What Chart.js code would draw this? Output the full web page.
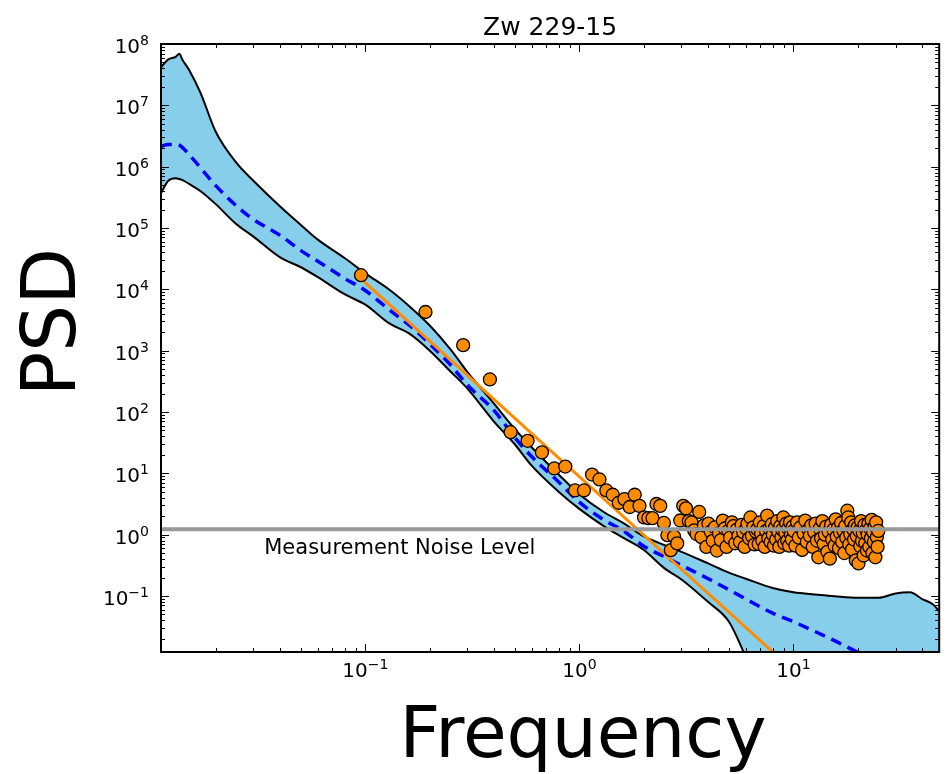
<!DOCTYPE html>
<html>
<head>
<meta charset="utf-8">
<script src="https://cdn.jsdelivr.net/npm/chart.js@4.4.0/dist/chart.umd.min.js"></script>
<style>
  html, body { margin: 0; padding: 0; background: #fff; }
  #wrap { width: 947px; height: 774px; }
</style>
</head>
<body>
<div id="wrap"><canvas id="psdChart" width="947" height="774"></canvas></div>
<script>
// frequency grid for the model band and its mean
const curveFreq = [0.0111, 0.012, 0.013, 0.0135, 0.014, 0.015, 0.017, 0.02, 0.025, 0.03, 0.04, 0.05, 0.06, 0.08,
  0.1, 0.13, 0.16, 0.2, 0.25, 0.3, 0.4, 0.5, 0.6, 0.8, 1, 1.3, 1.6, 2, 2.5, 3, 4, 5, 6, 8,
  10, 13, 16, 20, 25, 30, 35, 40, 45, 48];
const upperPsd = [4.17e7, 5.62e7, 6.17e7, 6.92e7, 5.5e7, 3.8e7, 1.58e7, 3.7e6, 1.15e6, 5.9e5, 2.24e5, 1.12e5, 6.46e4, 3.24e4,
  1.82e4, 9.77e3, 5.37e3, 2.57e3, 1.05e3, 447, 135, 52.5, 26.3, 9.55, 4.57, 2.34, 1.55, 0.933, 0.676, 0.525, 0.339, 0.24, 0.191, 0.135,
  0.115, 0.105, 0.0977, 0.0933, 0.0933, 0.11, 0.115, 0.0891, 0.0724, 0.0562];
const lowerPsd = [3.7e5, 5.9e5, 6.46e5, 6.31e5, 6.03e5, 5.25e5, 3.98e5, 2.45e5, 1.15e5, 7.24e4, 3.31e4, 2.29e4, 1.58e4, 8.32e3,
  5.62e3, 2.75e3, 1.91e3, 1.0e3, 457, 240, 69.2, 29.5, 13.2, 5.01, 2.63, 1.38, 0.891, 0.562, 0.282, 0.186, 0.0794, 0.038, 0.01, 0.001,
  1e-4, 1e-4, 1e-4, 1e-4, 1e-4, 1e-4, 1e-4, 1e-4, 1e-4, 1e-4];
const meanPsd = [2.14e6, 2.29e6, 2.29e6, 2.24e6, 2.04e6, 1.58e6, 9.55e5, 4.9e5, 2.29e5, 1.38e5, 7.59e4, 4.27e4, 2.88e4, 1.51e4,
  9.55e3, 4.57e3, 2.63e3, 1.29e3, 589, 275, 105, 38.0, 18.6, 7.24, 3.39, 1.74, 1.17, 0.646, 0.437, 0.316, 0.191, 0.126, 0.0891, 0.0525,
  0.038, 0.0251, 0.0178, 0.012, 0.0079, null, null, null, null, null];

// power-law fit (straight in log-log)
const fitFreq = [0.0955, 8.0];
const fitPsd = [14800, 0.0123];

// measurement noise level
const noiseFreq = [0.0111, 48];
const noisePsd = [1.22, 1.22];

// periodogram points
const pointFreq = [0.0955, 0.191, 0.2865, 0.382, 0.4775, 0.573, 0.6685, 0.764, 0.8595, 0.955, 1.0505, 1.146, 1.2415, 1.337,
  1.4325, 1.528, 1.6235, 1.719, 1.8145, 1.91, 2.0055, 2.101, 2.1965, 2.292, 2.3875, 2.483, 2.5785, 2.674, 2.7695, 2.865,
  2.9605, 3.056, 3.1515, 3.247, 3.3425,
  3.44, 3.53, 3.63, 3.72, 3.82, 3.92, 4.01, 4.11, 4.20, 4.30, 4.39, 4.49, 4.58, 4.68, 4.78, 4.87, 4.97,
  5.06, 5.16, 5.25, 5.35, 5.44, 5.54, 5.63, 5.73, 5.83, 5.92,
  6.02, 6.11, 6.21, 6.30, 6.40, 6.49, 6.59, 6.69, 6.78, 6.88, 6.97,
  7.07, 7.16, 7.26, 7.35, 7.45, 7.54, 7.64, 7.74, 7.83, 7.93,
  8.02, 8.12, 8.21, 8.31, 8.40, 8.50, 8.60, 8.69, 8.79, 8.88, 8.98,
  9.07, 9.17, 9.26, 9.36, 9.45, 9.55, 9.65, 9.74, 9.84, 9.93,
  10.03, 10.22, 10.41, 10.60, 10.79, 10.98, 11.17, 11.36, 11.56, 11.75,
  11.94, 12.13, 12.32, 12.51, 12.70, 12.89, 13.08, 13.27, 13.47, 13.66,
  13.85, 14.04, 14.23, 14.42, 14.61, 14.80, 14.99, 15.18, 15.38, 15.57,
  15.76, 15.95, 16.14, 16.33, 16.52, 16.71, 16.90, 17.09, 17.29, 17.48,
  17.67, 17.86, 18.05, 18.24, 18.43, 18.62, 18.81, 19.00, 19.20, 19.39,
  19.58, 19.77, 19.96, 20.15, 20.34, 20.53, 20.72, 20.91, 21.11, 21.30,
  21.49, 21.68, 21.87, 22.06, 22.25, 22.44, 22.63, 22.82, 23.02, 23.21,
  23.40, 23.59, 23.78, 23.97, 24.16, 24.35, 24.54, 24.73, 24.93];
const pointPsd = [17000, 4270, 1230, 339, 46.8, 33.9, 21.9, 12.0, 12.9, 5.25, 5.25, 9.55, 7.94, 5.25,
  4.47, 3.31, 3.80, 2.82, 4.47, 2.95, 1.91, 1.86, 1.86, 3.16, 2.95, 1.55, 0.98, 0.56, 0.93, 0.72,
  1.70, 2.95, 2.69, 1.66, 1.58,
  1.175, 1.023, 2.344, 0.912, 1.413, 0.631, 1.514, 1.122, 0.794, 1.318, 0.55, 1.047, 0.813, 1.698, 1.259, 0.631, 1.148,
  0.891, 1.585, 1.38, 0.724, 1.202, 0.955, 0.759, 1.445, 1.096, 0.631,
  1.259, 1.514, 0.871, 1.905, 0.955, 1.318, 0.692, 1.122, 1.23, 0.708, 1.585,
  1.047, 0.794, 1.38, 0.631, 1.148, 2.042, 0.871, 1.259, 0.759, 1.479,
  1.0, 0.661, 1.318, 0.832, 1.66, 1.122, 0.631, 1.38, 0.912, 1.202, 1.905,
  0.724, 1.072, 1.514, 0.794, 1.259, 0.661, 1.585, 1.0, 0.832, 1.349,
  1.148, 0.661, 1.585, 0.891, 1.318, 0.562, 1.047, 1.698, 0.759, 1.202,
  0.955, 1.413, 0.631, 1.096, 1.514, 0.794, 0.427, 1.259, 0.871, 1.66,
  0.708, 1.0, 1.349, 0.525, 1.122, 0.407, 1.445, 0.832, 1.202, 0.661,
  1.778, 0.933, 1.288, 0.603, 1.072, 1.549, 0.759, 1.175, 0.501, 1.38,
  0.891, 2.455, 1.905, 0.692, 1.023, 1.585, 0.575, 1.23, 0.832, 1.413,
  0.38, 0.955, 1.318, 0.339, 1.148, 0.646, 1.66, 0.794, 1.072, 0.457,
  1.445, 0.724, 1.202, 0.55, 1.0, 1.514, 0.631, 1.259, 0.871, 1.738,
  0.501, 1.096, 0.759, 1.38, 0.427, 1.585, 0.912, 0.631, 1.148];

// axis ticks
const xMajor = [0.1, 1, 10];
const xMajorExp = ['\u22121', '0', '1'];
const xMinor = [0.02, 0.03, 0.04, 0.05, 0.06, 0.07, 0.08, 0.09, 0.2, 0.3, 0.4, 0.5, 0.6, 0.7, 0.8, 0.9,
  2, 3, 4, 5, 6, 7, 8, 9, 20, 30, 40];
const yMajor = [0.1, 1, 10, 100, 1e3, 1e4, 1e5, 1e6, 1e7, 1e8];
const yMajorExp = ['\u22121', '0', '1', '2', '3', '4', '5', '6', '7', '8'];
const yMinor = [0.02, 0.03, 0.04, 0.05, 0.06, 0.07, 0.08, 0.09];
[0.1, 1, 10, 100, 1e3, 1e4, 1e5, 1e6, 1e7].forEach(d => {
  for (let k = 2; k <= 9; k++) yMinor.push(k * d);
});

const titleText = 'Zw 229-15';
const xTitle = 'Frequency';
const yTitle = 'PSD';
const noiseLabel = 'Measurement Noise Level';

const FONT = '"DejaVu Sans", "Liberation Sans", sans-serif';
const pts = (xs, ys) => xs.map((v, i) => ({ x: v, y: ys[i] }));

const decor = {
  id: 'decor',
  afterDatasetsDraw(chart) {
    const { ctx, chartArea: a, scales: { x, y } } = chart;
    ctx.save();
    ctx.fillStyle = '#000';
    ctx.strokeStyle = '#000';

    // noise label
    ctx.font = '21px ' + FONT;
    ctx.textAlign = 'left';
    ctx.textBaseline = 'alphabetic';
    ctx.fillText(noiseLabel, x.getPixelForValue(0.0337), y.getPixelForValue(0.49));

    // frame
    ctx.lineWidth = 2;
    ctx.strokeRect(a.left, a.top, a.right - a.left, a.bottom - a.top);

    // ticks, pointing inward on all four sides
    ctx.lineWidth = 1;
    const tick = (px, len, vertical) => {
      const p = Math.round(px) + 0.5;
      ctx.beginPath();
      if (vertical) {
        ctx.moveTo(p, a.bottom); ctx.lineTo(p, a.bottom - len);
        ctx.moveTo(p, a.top); ctx.lineTo(p, a.top + len);
      } else {
        ctx.moveTo(a.left, p); ctx.lineTo(a.left + len, p);
        ctx.moveTo(a.right, p); ctx.lineTo(a.right - len, p);
      }
      ctx.stroke();
    };
    xMajor.forEach(v => tick(x.getPixelForValue(v), 8, true));
    xMinor.forEach(v => tick(x.getPixelForValue(v), 4, true));
    yMajor.forEach(v => tick(y.getPixelForValue(v), 8, false));
    yMinor.forEach(v => tick(y.getPixelForValue(v), 4, false));

    // tick labels as 10^n
    const base = '20px ' + FONT, sup = '14px ' + FONT;
    const pow = (exp, px, py, align) => {
      ctx.font = base; const wb = ctx.measureText('10').width;
      ctx.font = sup; const we = ctx.measureText(exp).width;
      const left = align === 'right' ? px - wb - we : px - (wb + we) / 2;
      ctx.textAlign = 'left';
      ctx.font = base; ctx.fillText('10', left, py);
      ctx.font = sup; ctx.fillText(exp, left + wb, py - 8);
    };
    xMajor.forEach((v, i) => pow(xMajorExp[i], x.getPixelForValue(v), a.bottom + 25, 'center'));
    yMajor.forEach((v, i) => pow(yMajorExp[i], a.left - 12, y.getPixelForValue(v) + 9, 'right'));

    // title and axis titles
    ctx.textAlign = 'center';
    ctx.font = '25px ' + FONT;
    ctx.fillText(titleText, (a.left + a.right) / 2, 35);
    ctx.font = '71px ' + FONT;
    ctx.fillText(xTitle, 583, 757);
    ctx.save();
    ctx.translate(75, 322);
    ctx.rotate(-Math.PI / 2);
    ctx.font = '74px ' + FONT;
    ctx.fillText(yTitle, 0, 0);
    ctx.restore();

    ctx.restore();
  }
};

new Chart(document.getElementById('psdChart').getContext('2d'), {
  type: 'line',
  data: {
    datasets: [
      { label: 'upper', data: pts(curveFreq, upperPsd), borderColor: '#000', borderWidth: 2,
        backgroundColor: '#87CEEB', fill: 1, pointRadius: 0, cubicInterpolationMode: 'monotone', clip: 0, order: 5 },
      { label: 'lower', data: pts(curveFreq, lowerPsd), borderColor: '#000', borderWidth: 2,
        fill: false, pointRadius: 0, cubicInterpolationMode: 'monotone', clip: 0, order: 4 },
      { label: 'mean', data: pts(curveFreq, meanPsd), borderColor: '#0000FF', borderWidth: 3.5, borderDash: [11, 7],
        fill: false, pointRadius: 0, cubicInterpolationMode: 'monotone', clip: 0, order: 3 },
      { label: 'fit', data: pts(fitFreq, fitPsd), borderColor: '#FF8C00', borderWidth: 3,
        fill: false, pointRadius: 0, clip: 0, order: 2 },
      { label: 'PSD', data: pts(pointFreq, pointPsd), showLine: false, pointRadius: 6.5, pointBorderWidth: 1.3,
        pointBackgroundColor: '#FF8C00', pointBorderColor: '#000', order: 1 },
      { label: 'noise', data: pts(noiseFreq, noisePsd), borderColor: '#999999', borderWidth: 4,
        fill: false, pointRadius: 0, clip: 0, order: 0 }
    ]
  },
  options: {
    responsive: false,
    animation: false,
    events: [],
    layout: { padding: { left: 161, top: 44, right: 6, bottom: 122 } },
    scales: {
      x: { type: 'logarithmic', min: 0.0111, max: 48, display: false },
      y: { type: 'logarithmic', min: 0.0122, max: 1e8, display: false }
    },
    plugins: { legend: { display: false }, tooltip: { enabled: false } }
  },
  plugins: [decor]
});
</script>
</body>
</html>
